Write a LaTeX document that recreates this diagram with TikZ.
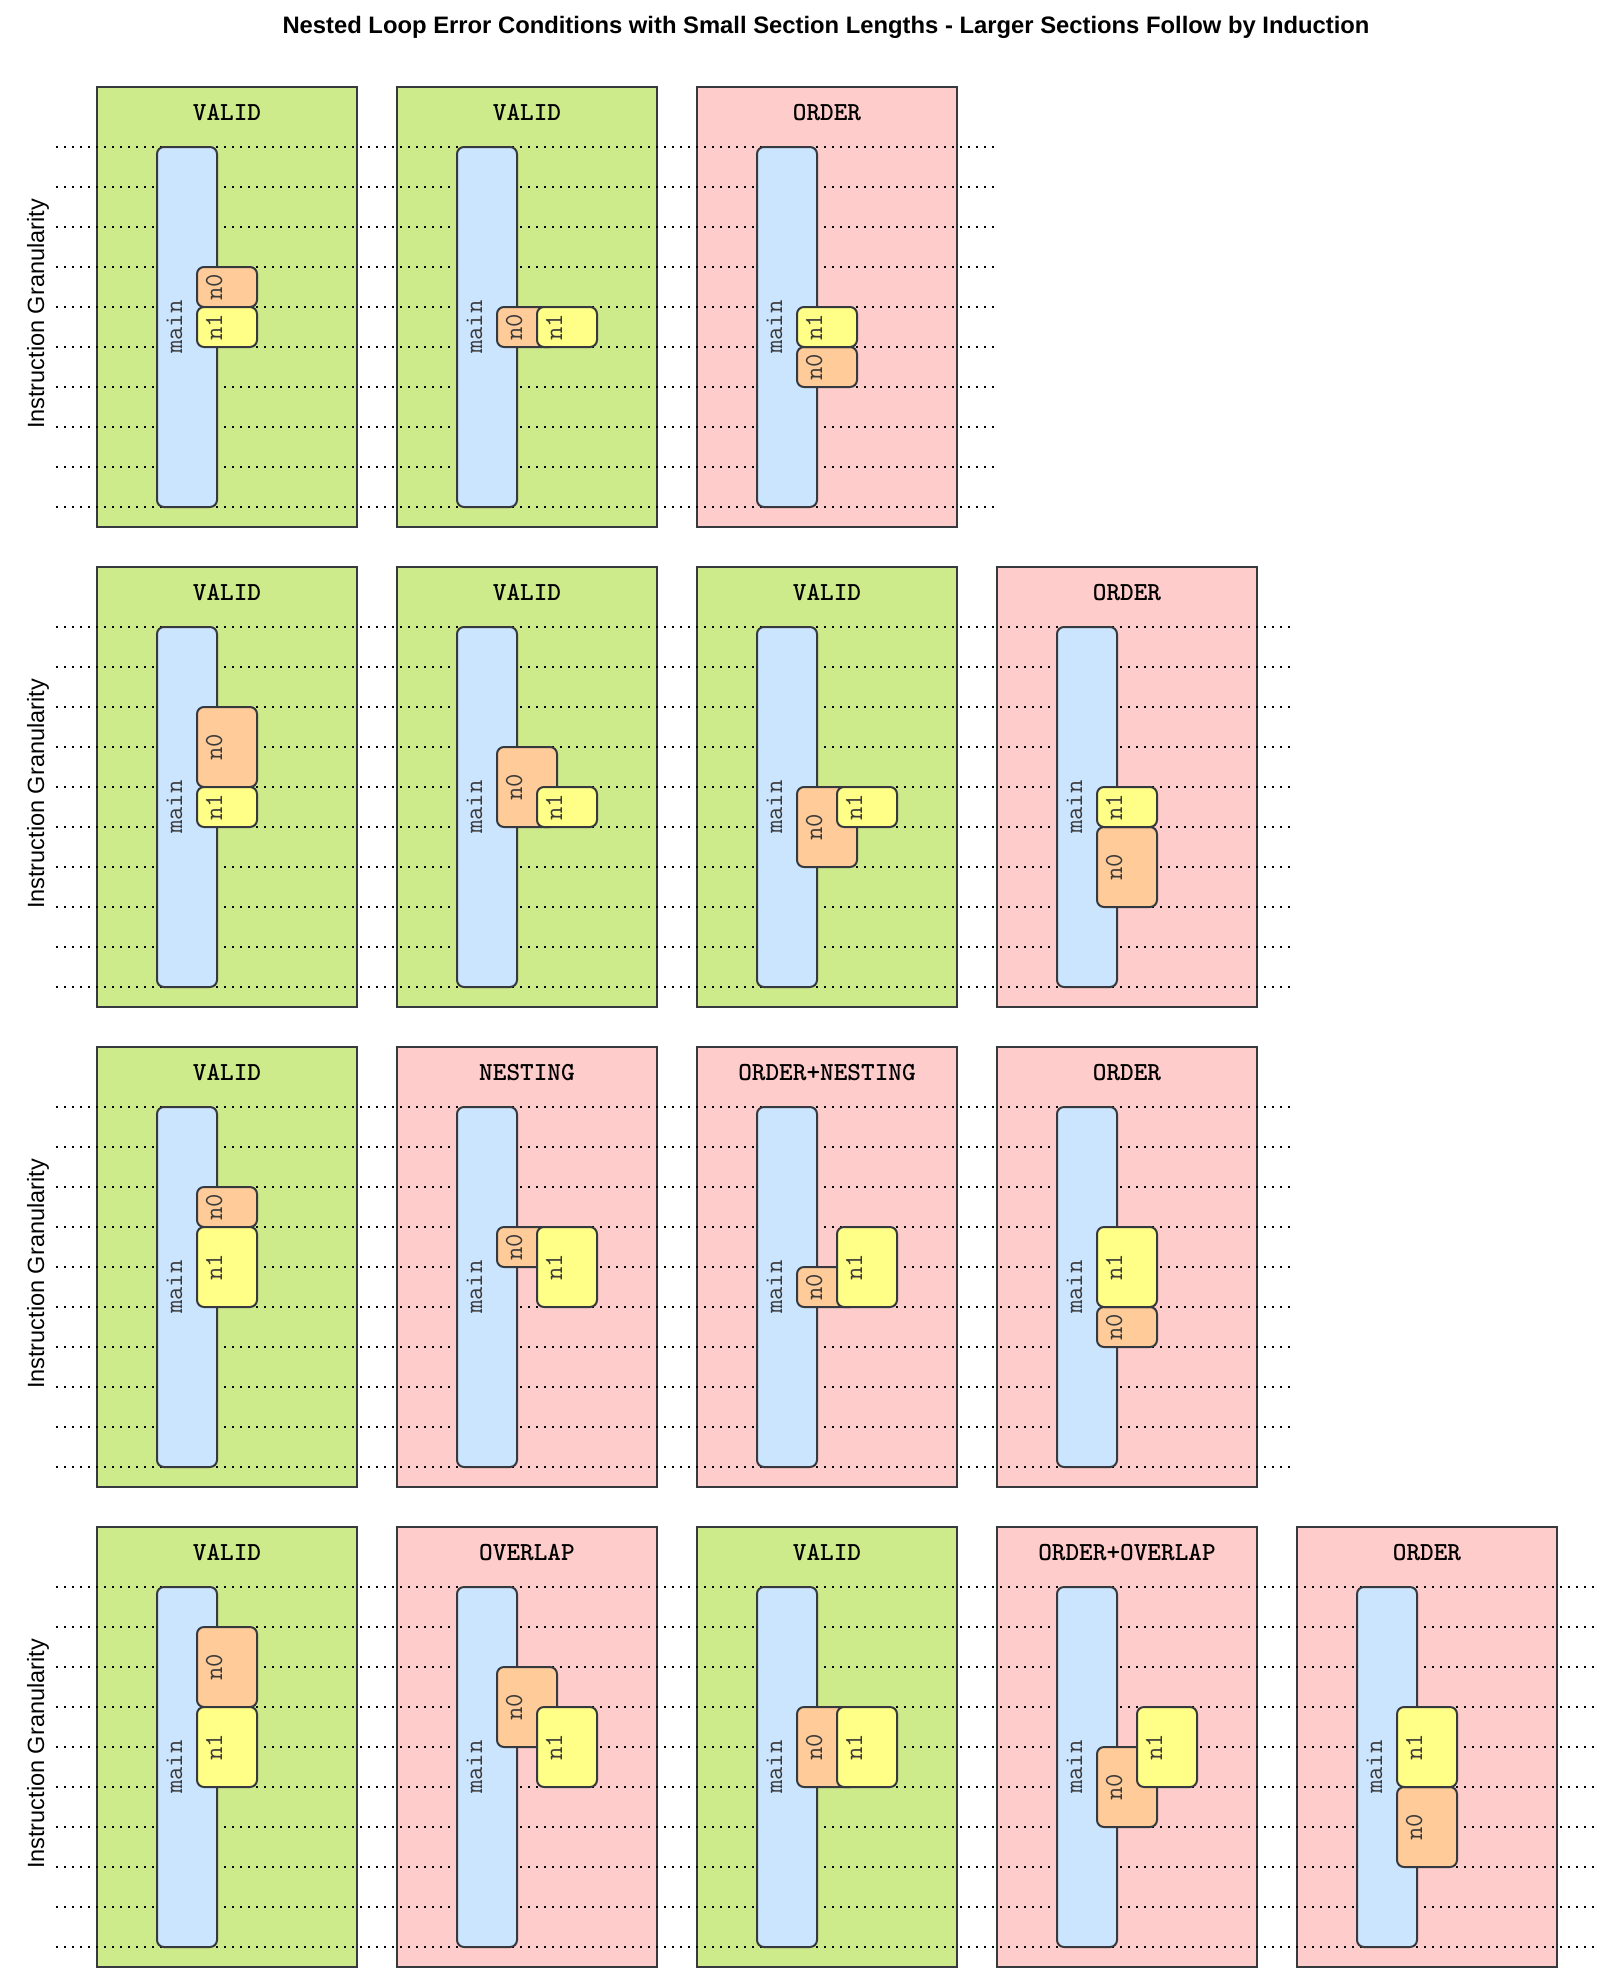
\documentclass[tikz,border=0pt]{standalone}
\usepackage{fontspec}
\setmainfont{Liberation Sans}
\usetikzlibrary{positioning}
\definecolor{edge}{HTML}{36393D}
\definecolor{okg}{HTML}{CDEB8B}
\definecolor{badr}{HTML}{FFCCCC}
\definecolor{mainblue}{HTML}{CCE5FF}
\definecolor{orng}{HTML}{FFCC99}
\definecolor{yel}{HTML}{FFFF88}
\definecolor{txtgray}{HTML}{3A3A3A}
\pgfdeclarelayer{bg}
\pgfdeclarelayer{mid}
\pgfsetlayers{bg,mid,main}
\tikzset{
  panelbox/.style={draw=edge, line width=2pt, minimum width=260pt, minimum height=440pt, inner sep=0pt, outer sep=0pt, anchor=north west},
  barbox/.style={draw=edge, line width=2pt, rounded corners=7pt, inner sep=0pt, outer sep=0pt, anchor=north west, minimum width=60pt},
  gridline/.style={line width=2pt, dash pattern=on 2pt off 6pt, black},
  vlabel/.style={rotate=90, anchor=base, inner sep=0pt, font=\ttfamily\fontsize{26}{30}\selectfont, text=txtgray},
  ptitle/.style={anchor=base, inner sep=0pt, font=\ttfamily\bfseries\fontsize{26}{30}\selectfont, text=black},
  rowlabel/.style={rotate=90, anchor=base, inner sep=0pt, font=\fontsize{23.5}{28}\selectfont, text=black},
  maintitle/.style={anchor=base, inner sep=0pt, font=\bfseries\fontsize{23.8}{28}\selectfont, text=black}
}
% #1 row, #2 col, #3 title, #4 fill, #5-#6 n0 lines, #7-#8 n1 lines, #9 n1 x offset
\newcommand\mkpanel[9]{%
  \pgfmathsetmacro\pT{87+480*(#1-1)}%
  \pgfmathsetmacro\pL{97+300*(#2-1)}%
  \begin{pgfonlayer}{bg}
    \node[panelbox,fill=#4] (p#1#2) at (\pL,\pT) {};
  \end{pgfonlayer}
  \node[ptitle] (t#1#2) at (\pL+130,\pT+33.5) {#3};
  \node[barbox,fill=mainblue,minimum height=360pt] (m#1#2) at (\pL+60,\pT+60) {};
  \node[vlabel] (mt#1#2) at (\pL+85,\pT+240) {main};
  \pgfmathsetmacro\aT{\pT+60+40*#5}%
  \pgfmathsetmacro\aH{40*(#6-#5)}%
  \node[barbox,fill=orng,minimum height=\aH pt] (a#1#2) at (\pL+100,\aT) {};
  \node[vlabel] (at#1#2) at (\pL+125,\aT+\aH/2) {n0};
  \pgfmathsetmacro\bT{\pT+60+40*#7}%
  \pgfmathsetmacro\bH{40*(#8-#7)}%
  \node[barbox,fill=yel,minimum height=\bH pt] (b#1#2) at (\pL+#9,\bT) {};
  \node[vlabel] (bt#1#2) at (\pL+#9+25,\bT+\bH/2) {n1};
}
\begin{document}
\begin{tikzpicture}[x=1pt,y=-1pt]
\begin{pgfonlayer}{bg}
  \path[fill=white] (0,0) rectangle (1606,1974);
\end{pgfonlayer}
\useasboundingbox (0,0) rectangle (1606,1974);
\node[maintitle] (title) at (826,33.3) {Nested Loop Error Conditions with Small Section Lengths - Larger Sections Follow by Induction};
\foreach \r in {1,2,3,4}{
  \node[rowlabel] (g\r) at (44,{87+480*(\r-1)+227}) {Instruction Granularity};
}
\begin{pgfonlayer}{mid}
\foreach \r/\n in {1/3,2/4,3/4,4/5}{
  \foreach \k in {0,...,9}{
    \draw[gridline] (56,{87+480*(\r-1)+60+40*\k}) -- ({95+300*\n},{87+480*(\r-1)+60+40*\k});
  }
}
\end{pgfonlayer}
\mkpanel{1}{1}{VALID}{okg}{3}{4}{4}{5}{100}
\mkpanel{1}{2}{VALID}{okg}{4}{5}{4}{5}{140}
\mkpanel{1}{3}{ORDER}{badr}{5}{6}{4}{5}{100}
\mkpanel{2}{1}{VALID}{okg}{2}{4}{4}{5}{100}
\mkpanel{2}{2}{VALID}{okg}{3}{5}{4}{5}{140}
\mkpanel{2}{3}{VALID}{okg}{4}{6}{4}{5}{140}
\mkpanel{2}{4}{ORDER}{badr}{5}{7}{4}{5}{100}
\mkpanel{3}{1}{VALID}{okg}{2}{3}{3}{5}{100}
\mkpanel{3}{2}{NESTING}{badr}{3}{4}{3}{5}{140}
\mkpanel{3}{3}{ORDER+NESTING}{badr}{4}{5}{3}{5}{140}
\mkpanel{3}{4}{ORDER}{badr}{5}{6}{3}{5}{100}
\mkpanel{4}{1}{VALID}{okg}{1}{3}{3}{5}{100}
\mkpanel{4}{2}{OVERLAP}{badr}{2}{4}{3}{5}{140}
\mkpanel{4}{3}{VALID}{okg}{3}{5}{3}{5}{140}
\mkpanel{4}{4}{ORDER+OVERLAP}{badr}{4}{6}{3}{5}{140}
\mkpanel{4}{5}{ORDER}{badr}{5}{7}{3}{5}{100}
\end{tikzpicture}
\end{document}
